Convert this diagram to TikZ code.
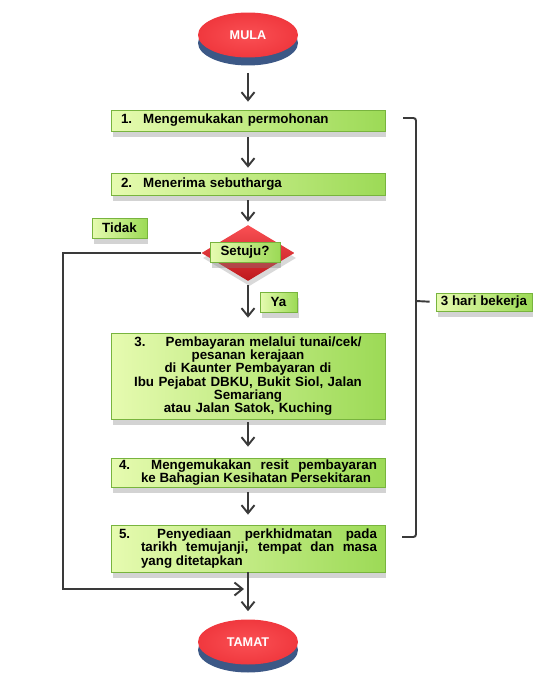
\documentclass[tikz,border=0pt]{standalone}
\usepackage{fontspec}
\setmainfont{Liberation Sans}
\usepackage{xcolor}
\usetikzlibrary{shapes.geometric,shadows,arrows.meta}

\definecolor{vertclair}{RGB}{230,251,176}
\definecolor{vertfonce}{RGB}{156,218,86}
\definecolor{vertbord}{RGB}{120,180,62}
\definecolor{rouge}{RGB}{240,56,62}
\definecolor{rougeclair}{RGB}{250,80,84}
\definecolor{rougefonce}{RGB}{190,24,28}
\definecolor{bleubase}{RGB}{60,88,134}
\definecolor{trait}{RGB}{58,58,58}

\tikzset{
  base/.style={draw=vertbord, line width=0.4pt, left color=vertclair, right color=vertfonce,
    drop shadow={shadow xshift=0.03cm, shadow yshift=-0.12cm, opacity=0.35},
    font=\fontsize{7.6}{7.5}\selectfont\bfseries},
  etape/.style={base, text width=5.16cm, inner xsep=0.16cm, inner ysep=0pt},
  etiq/.style={base, inner sep=0pt, minimum height=0.4cm},
  terminus/.style={ellipse, inner color=rougeclair, outer color=rouge, text=white,
    minimum width=2cm, minimum height=0.9cm, inner sep=0pt,
    font=\fontsize{7.2}{8}\selectfont\bfseries,
    preaction={fill=bleubase, transform canvas={yshift=-0.16cm}}},
  choix/.style={diamond, top color=rougeclair, bottom color=rougefonce,
    minimum width=1.86cm, minimum height=1.12cm, inner sep=0pt,
    drop shadow={shadow xshift=0.03cm, shadow yshift=-0.1cm, opacity=0.3}},
  fleche/.style={draw=trait, line width=1.1pt, -{Straight Barb[length=1.6mm,width=2.6mm]}},
  crochet/.style={draw=trait, line width=1.1pt, rounded corners=1.5pt}
}

\begin{document}
\begin{tikzpicture}[x=0.02cm, y=-0.02cm]
  \useasboundingbox (0,0) rectangle (553,686);

  % Dessinez les terminaux
  \node[terminus] (mula) at (248,35) {MULA};
  \node[terminus] (tamat) at (248,642) {TAMAT};

  % Dessinez les etapes
  \node[etape, align=left, minimum height=0.42cm] (e1) at (248,120.5)
    {\hspace{0.04cm}1.\hspace{0.22cm}Mengemukakan permohonan};
  \node[etape, align=left, minimum height=0.44cm] (e2) at (248,184)
    {\hspace{0.04cm}2.\hspace{0.22cm}Menerima sebutharga};
  \node[choix] (setuju) at (248,253) {};
  \node[etiq, minimum width=1.4cm] (soal) at (245,252) {Setuju?};
  \node[etape, align=center, minimum height=1.72cm] (e3) at (248,376)
    {3.\hspace{0.4cm}Pembayaran melalui tunai/cek/\\ pesanan kerajaan\\
     di Kaunter Pembayaran di\\ Ibu Pejabat DBKU, Bukit Siol, Jalan\\
     Semariang\\ atau Jalan Satok, Kuching};
  \node[etape, align=justify, minimum height=0.58cm] (e4) at (248,472.5)
    {\hangindent=0.44cm\hangafter=1 4.\hspace{0.42cm}Mengemukakan resit pembayaran\linebreak
     ke Bahagian Kesihatan Persekitaran\par};
  \node[etape, align=justify, minimum height=0.94cm] (e5) at (248,548.5)
    {\hangindent=0.44cm\hangafter=1 5.\hspace{0.54cm}Penyediaan perkhidmatan pada\linebreak
     tarikh temujanji, tempat dan masa\linebreak yang ditetapkan\par};

  % Ajoutez les etiquettes
  \node[etiq, minimum width=1.1cm] (tidak) at (119.5,228) {Tidak};
  \node[etiq, minimum width=0.74cm] (ya) at (278.5,302) {Ya};
  \node[etiq, minimum width=1.92cm, minimum height=0.36cm] (hari) at (484,302) {3 hari bekerja};

  % Dessinez les fleches
  \foreach \a/\b/\s/\t in {mula/e1/0.3/0.16, e1/e2/0.12/0.1, e2/setuju/0.1/0.06,
                           setuju/e3/0.08/0.3, e3/e4/0.06/0.22, e4/e5/0.1/0.2} {
    \draw[fleche, shorten <=\s cm, shorten >=\t cm] (\a) -- (\b);
  }
  \draw[fleche, shorten >=0.16cm] (e5) -- (tamat);

  % Dessinez la boucle Tidak
  \coordinate (joint) at (248,589);
  \draw[fleche, shorten >=0.08cm] (setuju.west) -- ++(-138,0) |- (joint);

  % Dessinez le crochet
  \draw[crochet] (403,118) -- (416,118) -- (416,537) -- (402,537);
  \coordinate (milieu) at (416,301);
  \draw[crochet, shorten >=0.12cm] (milieu) -- (hari.west);
\end{tikzpicture}
\end{document}
